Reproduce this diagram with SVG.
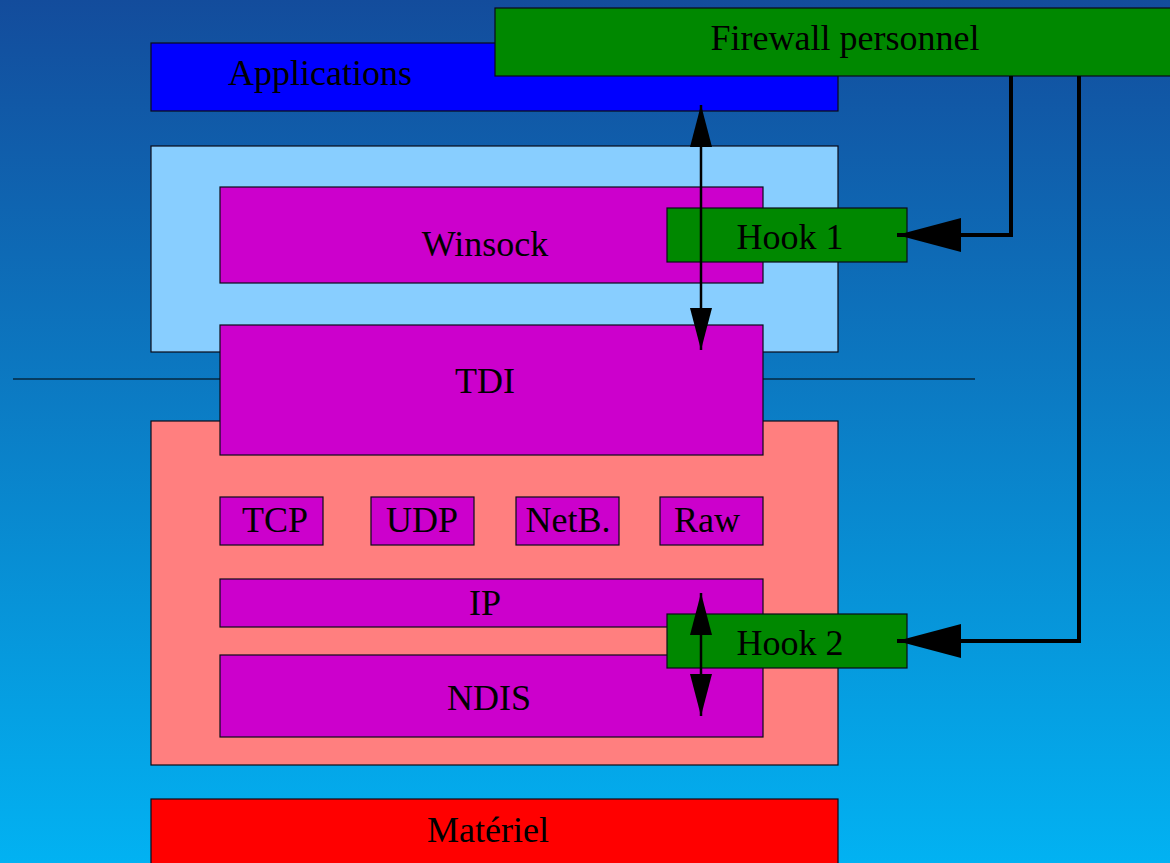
<svg xmlns="http://www.w3.org/2000/svg" width="1170" height="863" viewBox="0 0 1170 863">
<defs>
<linearGradient id="bg" x1="0" y1="0" x2="0" y2="1">
<stop offset="0" stop-color="#134c9c"/>
<stop offset="1" stop-color="#02b2f2"/>
</linearGradient>
<marker id="ah" viewBox="0 0 42 22" refX="42" refY="11" markerWidth="42" markerHeight="22" markerUnits="userSpaceOnUse" orient="auto-start-reverse">
<path d="M0,0 L42,11 L0,22 Z" fill="#000"/>
</marker>
<marker id="ah2" viewBox="0 0 64 34" refX="64" refY="17" markerWidth="64" markerHeight="34" markerUnits="userSpaceOnUse" orient="auto">
<path d="M0,0 L64,17 L0,34 Z" fill="#000"/>
</marker>
</defs>
<style>
rect{stroke:#0a0a18;stroke-width:1.2}
text{font-family:"Liberation Serif","Times New Roman",serif;font-size:36px;fill:#000;text-anchor:middle}
.mag{fill:#cc00cc}
.grn{fill:#008800}
.conn{fill:none;stroke:#000;stroke-width:4}
.va{fill:none;stroke:#000;stroke-width:2.5}
</style>
<rect x="0" y="0" width="1170" height="863" fill="url(#bg)" style="stroke:none"/>
<g id="applications"><rect x="151" y="43" width="687" height="68" fill="#0000ff"/><text x="320" y="85">Applications</text></g>
<g id="firewall"><rect x="495" y="8" width="690" height="68" class="grn"/><text x="845" y="50">Firewall personnel</text></g>
<g id="user-layer"><rect x="151" y="146" width="687" height="206" fill="#88ceff"/></g>
<g id="winsock"><rect x="220" y="187" width="543" height="96" class="mag"/><text x="485" y="256">Winsock</text></g>
<line x1="13" y1="379" x2="975" y2="379" stroke="#000" stroke-width="1.2"/>
<g id="kernel-layer"><rect x="151" y="421" width="687" height="344" fill="#ff7f7f"/></g>
<g id="tdi"><rect x="220" y="325" width="543" height="130" class="mag"/><text x="485" y="393">TDI</text></g>
<g id="tcp"><rect x="220" y="497" width="103" height="48" class="mag"/><text x="275" y="532">TCP</text></g>
<g id="udp"><rect x="371" y="497" width="103" height="48" class="mag"/><text x="422" y="532">UDP</text></g>
<g id="netb"><rect x="516" y="497" width="103" height="48" class="mag"/><text x="568" y="532">NetB.</text></g>
<g id="raw"><rect x="660" y="497" width="103" height="48" class="mag"/><text x="707" y="532">Raw</text></g>
<g id="ip"><rect x="220" y="579" width="543" height="48" class="mag"/><text x="485" y="615">IP</text></g>
<g id="ndis"><rect x="220" y="655" width="543" height="82" class="mag"/><text x="489" y="710">NDIS</text></g>
<g id="hook1"><rect x="667" y="208" width="240" height="54" class="grn"/><text x="790" y="249">Hook 1</text></g>
<g id="hook2"><rect x="667" y="614" width="240" height="54" class="grn"/><text x="790" y="655">Hook 2</text></g>
<g id="materiel"><rect x="151" y="799" width="687" height="70" fill="#ff0000"/><text x="488" y="842">Matériel</text></g>
<g id="connectors">
<line x1="701" y1="105" x2="701" y2="350" class="va" marker-start="url(#ah)" marker-end="url(#ah)"/>
<line x1="701" y1="593" x2="701" y2="716" class="va" marker-start="url(#ah)" marker-end="url(#ah)"/>
<polyline points="1011,76 1011,235 897,235" class="conn" marker-end="url(#ah2)"/>
<polyline points="1079,76 1079,641 897,641" class="conn" marker-end="url(#ah2)"/>
</g>
</svg>
